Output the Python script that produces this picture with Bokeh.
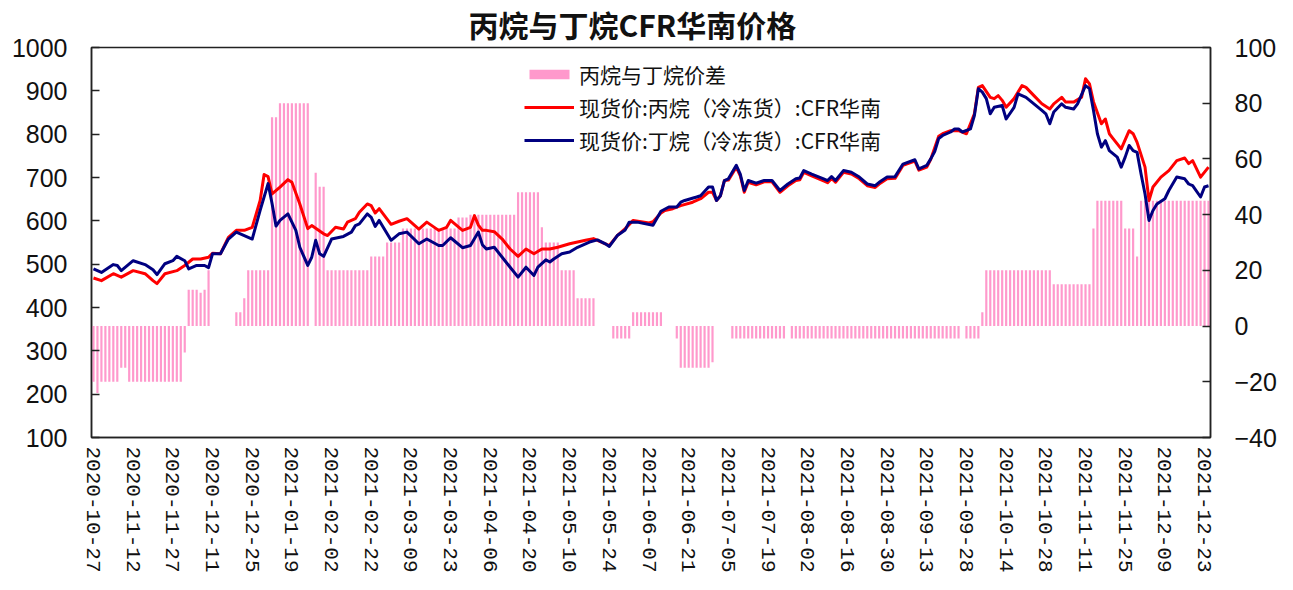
from bokeh.plotting import figure
from bokeh.models import (Range1d, LinearAxis, FixedTicker, Legend, LegendItem,
                          ColumnDataSource)
from bokeh.embed import file_html
from bokeh.resources import INLINE

# ---------------- data ----------------
title_text = "丙烷与丁烷CFR华南价格"
tick_labels = ["2020-10-27", "2020-11-12", "2020-11-27", "2020-12-11", "2020-12-25",
               "2021-01-19", "2021-02-02", "2021-02-22", "2021-03-09", "2021-03-23",
               "2021-04-06", "2021-04-20", "2021-05-10", "2021-05-24", "2021-06-07",
               "2021-06-21", "2021-07-05", "2021-07-19", "2021-08-02", "2021-08-16",
               "2021-08-30", "2021-09-13", "2021-09-28", "2021-10-14", "2021-10-28",
               "2021-11-11", "2021-11-25", "2021-12-09", "2021-12-23"]
days_per_label = 10  # trading days between labelled categories

# 现货价:丙烷(冷冻货):CFR华南  (trading-day index, USD/t)
propane_day = [0, 2, 5, 7, 10, 13, 15, 16, 18, 21, 23, 25, 27, 29, 30, 32, 34, 36, 38, 40,
               42, 43, 44, 45, 47, 49, 50, 52, 54, 55, 58, 59, 61, 63, 64, 66, 67, 69, 70, 71,
               72, 75, 77, 79, 82, 84, 87, 89, 90, 93, 95, 96, 97, 98, 99, 101, 103, 105, 107, 109,
               111, 113, 115, 117, 120, 124, 126, 128, 130, 132, 134, 136, 140, 141, 143, 144, 146, 148, 151, 153,
               155, 156, 157, 158, 159, 160, 162, 163, 164, 165, 167, 169, 171, 173, 175, 177, 178, 179, 181, 184,
               185, 186, 187, 189, 191, 193, 195, 197, 198, 200, 202, 204, 207, 208, 210, 211, 213, 214, 216, 218,
               220, 222, 223, 224, 226, 227, 228, 229, 230, 232, 234, 235, 237, 239, 241, 242, 244, 245, 247, 249,
               250, 251, 252, 254, 255, 256, 257, 259, 261, 262, 263, 265, 266, 267, 269, 271, 273, 275, 276, 277,
               279, 281]
propane_price = [468, 462, 478, 470, 485, 478, 462, 455, 478, 485, 497, 512, 512, 516, 525, 524, 562, 578, 578, 585,
                 647, 707, 702, 662, 678, 695, 689, 639, 582, 589, 570, 566, 585, 581, 597, 605, 620, 639, 635, 618,
                 628, 592, 599, 605, 581, 597, 578, 585, 601, 578, 585, 612, 590, 578, 578, 575, 558, 535, 518, 535,
                 524, 535, 535, 539, 547, 555, 559, 551, 543, 566, 582, 601, 595, 598, 618, 624, 628, 635, 643, 651,
                 666, 666, 647, 658, 693, 694, 724, 704, 666, 689, 683, 690, 690, 666, 681, 693, 695, 712, 704, 692,
                 688, 698, 689, 712, 708, 697, 681, 677, 685, 697, 698, 728, 738, 717, 724, 742, 795, 801, 808, 808,
                 801, 847, 908, 912, 885, 882, 889, 878, 862, 882, 912, 908, 889, 870, 858, 870, 885, 874, 874, 885,
                 928, 916, 875, 824, 835, 801, 789, 766, 808, 801, 781, 724, 647, 678, 701, 716, 739, 745, 732, 739,
                 701, 724]

# 现货价:丁烷(冷冻货):CFR华南
butane_day = [0, 2, 5, 6, 7, 10, 13, 15, 16, 18, 20, 21, 23, 24, 26, 28, 29, 30, 32, 34,
              36, 38, 40, 42, 44, 45, 46, 47, 49, 51, 52, 54, 55, 56, 57, 58, 60, 63, 65, 66,
              67, 69, 70, 71, 72, 75, 77, 79, 82, 84, 87, 88, 90, 93, 95, 97, 98, 99, 101, 103,
              105, 107, 109, 111, 112, 114, 115, 116, 118, 120, 122, 124, 125, 127, 129, 130, 132, 134, 135, 137,
              141, 143, 145, 147, 148, 149, 152, 153, 155, 156, 157, 158, 159, 160, 162, 163, 164, 165, 167, 169,
              171, 173, 175, 177, 178, 179, 181, 184, 185, 186, 187, 189, 191, 193, 195, 197, 198, 200, 202, 204,
              207, 208, 210, 211, 212, 213, 214, 216, 217, 218, 219, 221, 222, 223, 224, 225, 226, 227, 229, 230,
              232, 233, 235, 237, 239, 240, 241, 242, 244, 245, 247, 248, 250, 251, 252, 253, 254, 255, 256, 258,
              259, 260, 261, 262, 263, 264, 265, 266, 267, 268, 270, 271, 273, 275, 276, 277, 279, 280, 281]
butane_price = [489, 481, 499, 497, 485, 508, 499, 487, 476, 501, 508, 518, 508, 489, 497, 497, 492, 524, 524, 558,
                574, 566, 558, 624, 686, 640, 588, 601, 616, 578, 539, 497, 516, 555, 524, 518, 558, 564, 574, 589,
                593, 616, 608, 587, 601, 555, 570, 574, 547, 558, 543, 543, 561, 538, 543, 574, 545, 535, 539, 516,
                493, 470, 493, 474, 493, 510, 505, 512, 524, 528, 539, 547, 551, 556, 547, 541, 566, 579, 597, 597,
                590, 622, 632, 632, 643, 647, 655, 658, 678, 678, 647, 658, 693, 697, 728, 708, 670, 693, 687, 693,
                693, 670, 685, 697, 699, 716, 708, 697, 693, 702, 693, 716, 712, 701, 685, 681, 689, 701, 702, 731,
                741, 720, 728, 743, 760, 790, 797, 805, 812, 812, 805, 812, 843, 905, 897, 882, 847, 862, 866, 835,
                862, 893, 885, 870, 855, 847, 824, 851, 870, 862, 858, 870, 912, 905, 855, 801, 770, 785, 762, 747,
                724, 747, 774, 762, 758, 708, 662, 601, 624, 639, 651, 670, 701, 697, 685, 681, 655, 678, 681]

# 丙烷与丁烷价差: runs of (value, number of trading days), read left to right
spread_runs = [(-20, 1), (-24, 1), (-20, 5), (-15, 2), (-20, 14), (-9.5, 1), (13, 3), (12, 1), (13, 1),
               (20, 1), (0, 6), (5, 2), (10, 1), (20, 6), (75, 2), (80, 8), (0, 1), (55, 1), (50, 2),
               (20, 11), (25, 4), (30, 4), (35, 14), (39, 3), (40, 12), (48, 6), (35.5, 1), (30, 4),
               (20, 4), (10, 5), (0, 4), (-4.5, 5), (5, 8), (0, 3), (-4.5, 1), (-15, 8), (-13, 1),
               (0, 4), (-4.5, 14), (0, 1), (-4.5, 43), (0, 1), (-4.5, 4), (5, 1), (20, 17), (15, 10),
               (35, 1), (45, 7), (35, 3), (25, 1), (45, 18)]

left_ticks = [100, 200, 300, 400, 500, 600, 700, 800, 900, 1000]
right_ticks = [-40, -20, 0, 20, 40, 60, 80, 100]

# ---------------- build ----------------
spread_values = []
for v, n in spread_runs:
    spread_values.extend([v] * n)
spread_day = list(range(len(spread_values)))
tick_days = [i * days_per_label for i in range(len(tick_labels))]

p = figure(width=1285, height=582,
           x_range=Range1d(-0.5, len(spread_values) - 0.5),
           y_range=Range1d(left_ticks[0], left_ticks[-1]),
           output_backend="svg", toolbar_location=None,
           min_border_left=91, min_border_right=75, min_border_top=47, min_border_bottom=145,
           background_fill_color="white", border_fill_color="white")
p.extra_y_ranges = {"spread": Range1d(right_ticks[0], right_ticks[-1])}

p.xgrid.visible = False
p.ygrid.visible = False
p.outline_line_color = "#222222"
p.outline_line_width = 1.5

# title
p.title.text = title_text
p.title.text_font = "Noto Sans CJK SC"
p.title.text_font_style = "bold"
p.title.text_font_size = "30px"
p.title.text_color = "#111111"
p.title.align = "left"
p.title.vertical_align = "top"
p.title.offset = 377
p.title.standoff = 0

# bars
src_bar = ColumnDataSource(dict(day=spread_day, spread=spread_values))
bars = p.vbar(x="day", top="spread", bottom=0, width=0.55, source=src_bar,
              y_range_name="spread", fill_color="#ff99cc", line_color=None)

# lines
r_prop = p.line(propane_day, propane_price, line_color="#ff0000", line_width=3, line_join="round")
r_but = p.line(butane_day, butane_price, line_color="#000080", line_width=3, line_join="round")

# axes
def style_y(ax, ticks):
    ax.ticker = FixedTicker(ticks=ticks)
    ax.major_tick_in = 8
    ax.major_tick_out = 0
    ax.minor_tick_in = 0
    ax.minor_tick_out = 0
    ax.axis_line_color = "#222222"
    ax.axis_line_width = 1.5
    ax.major_tick_line_color = "#222222"
    ax.major_tick_line_width = 1.5
    ax.major_label_text_font = "Liberation Sans"
    ax.major_label_text_font_size = "25px"
    ax.major_label_text_color = "#111111"
    ax.major_label_standoff = 24

style_y(p.yaxis[0], left_ticks)
right_axis = LinearAxis(y_range_name="spread")
style_y(right_axis, right_ticks)
p.add_layout(right_axis, "right")

xa = p.xaxis[0]
xa.ticker = FixedTicker(ticks=tick_days)
xa.major_label_overrides = {d: lbl for d, lbl in zip(tick_days, tick_labels)}
xa.major_label_orientation = "vertical"
xa.major_tick_in = 0
xa.major_tick_out = 0
xa.minor_tick_in = 0
xa.minor_tick_out = 0
xa.axis_line_color = "#222222"
xa.axis_line_width = 1.5
xa.major_label_text_font = "Liberation Mono"
xa.major_label_text_font_size = "21px"
xa.major_label_text_color = "#111111"
xa.major_label_standoff = 9

# legend
legend = Legend(items=[LegendItem(label="丙烷与丁烷价差", renderers=[bars]),
                       LegendItem(label="现货价:丙烷（冷冻货）:CFR华南", renderers=[r_prop]),
                       LegendItem(label="现货价:丁烷（冷冻货）:CFR华南", renderers=[r_but])],
                location=(433, 282), orientation="vertical",
                label_text_font="Noto Sans CJK SC", label_text_font_size="21px",
                label_text_color="#111111",
                glyph_width=50, glyph_height=12, label_standoff=5, spacing=3,
                label_height=28, padding=0, margin=0,
                border_line_alpha=0, background_fill_alpha=0)
p.add_layout(legend)

open("out.html", "w").write(file_html(p, INLINE))
